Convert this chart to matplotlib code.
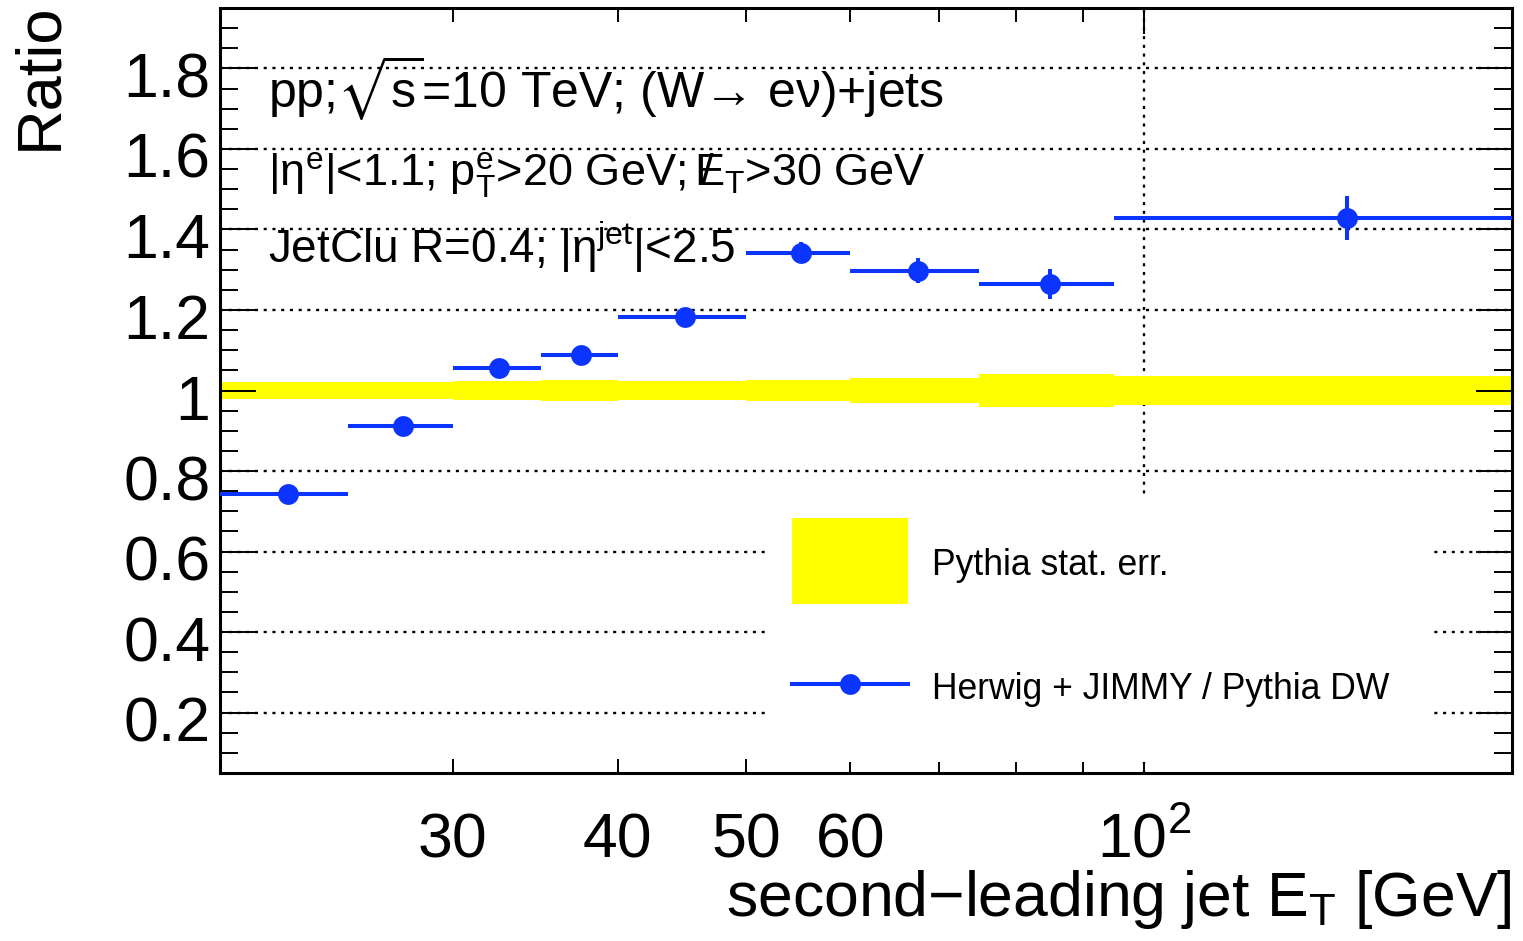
import matplotlib
matplotlib.use("Agg")
import matplotlib.pyplot as plt
import matplotlib.transforms as mtransforms
from matplotlib.patches import Rectangle
from matplotlib.lines import Line2D
from matplotlib.ticker import FixedLocator, FixedFormatter
import numpy as np

# Binning in second-leading jet E_T [GeV]
bin_edges = [20, 25, 30, 35, 40, 50, 60, 75, 95, 190]
# Herwig + JIMMY / Pythia DW ratio in each bin, with its uncertainty
ratio_values = [0.742, 0.912, 1.055, 1.089, 1.182, 1.342, 1.298, 1.265, 1.428]
ratio_errors = [0.008, 0.008, 0.010, 0.010, 0.014, 0.026, 0.031, 0.037, 0.054]
# Pythia statistical uncertainty (band around 1)
pythia_stat_err = [0.020, 0.021, 0.024, 0.027, 0.024, 0.027, 0.031, 0.042, 0.037]

x_major_ticks = [100]
x_major_labels = [r"$10^{2}$"]
x_minor_ticks = [30, 40, 50, 60, 70, 80, 90]
x_minor_labels = ["30", "40", "50", "60", "", "", ""]
y_major_ticks = [0.2, 0.4, 0.6, 0.8, 1.0, 1.2, 1.4, 1.6, 1.8]
y_major_labels = ["0.2", "0.4", "0.6", "0.8", "1", "1.2", "1.4", "1.6", "1.8"]
y_minor_ticks = list(np.arange(0.05, 1.951, 0.05))

legend_labels = ["Pythia stat. err.", "Herwig + JIMMY / Pythia DW"]
info_lines = [
    r"pp;$\sqrt{\mathrm{s}}$=10 TeV; (W→ eν)+jets",
    r"|η$^{\mathrm{e}}$|<1.1; p$^{\mathrm{e}}_{\mathrm{T}}$>20 GeV; $/\!\!\!E_{\mathrm{T}}$>30 GeV",
    r"JetClu R=0.4; |η$^{\mathrm{jet}}$|<2.5",
]
info_sizes = [36, 32.5, 33]
info_baselines = [0.8706, 0.767, 0.6667]

BLUE = "#0b35ff"
YELLOW = "#ffff00"

plt.rcParams["font.family"] = ["Liberation Sans", "DejaVu Sans"]
plt.rcParams["mathtext.fontset"] = "custom"
plt.rcParams["mathtext.rm"] = "Liberation Sans"
plt.rcParams["mathtext.it"] = "Liberation Sans"
plt.rcParams["mathtext.sf"] = "Liberation Sans"
plt.rcParams["mathtext.bf"] = "Liberation Sans:bold"
plt.rcParams["mathtext.fallback"] = "stixsans"

W, H = 1523, 941
AX_L, AX_R, AX_T, AX_B = 220, 1512, 8, 773
fig = plt.figure(figsize=(W / 100, H / 100), dpi=100)
ax = fig.add_axes([AX_L / W, 1 - AX_B / H, (AX_R - AX_L) / W, (AX_B - AX_T) / H])
ax.set_xscale("log")
ax.set_xlim(bin_edges[0], bin_edges[-1])
ax.set_ylim(0.05, 1.95)


def frac(px, py):
    """Pixel position on the canvas -> axes fraction."""
    return (px - AX_L) / (AX_R - AX_L), (AX_B - py) / (AX_B - AX_T)


edges = np.array(bin_edges, dtype=float)
lo, hi = edges[:-1], edges[1:]
centers = 0.5 * (lo + hi)
band = np.array(pythia_stat_err)

# dotted grid at the major ticks, kept underneath everything else
grid_kw = dict(color="black", lw=1.7, linestyle=(0, (1.3, 2.4)), zorder=0.5)
for yv in y_major_ticks:
    ax.axhline(yv, **grid_kw)
for xv in x_major_ticks:
    ax.axvline(xv, **grid_kw)

# Pythia statistical band
ax.bar(lo, 2 * band, bottom=1 - band, width=hi - lo, align="edge",
       color=YELLOW, linewidth=0, zorder=1)

# Herwig / Pythia ratio points
ax.errorbar(centers, ratio_values, xerr=[centers - lo, hi - centers],
            yerr=ratio_errors, fmt="o", color=BLUE, ms=15, mew=0,
            elinewidth=2.9, capsize=0, zorder=4)

# axes styling
for sp in ax.spines.values():
    sp.set_linewidth(2.2)
ax.xaxis.set_major_locator(FixedLocator(x_major_ticks))
ax.xaxis.set_major_formatter(FixedFormatter(x_major_labels))
ax.xaxis.set_minor_locator(FixedLocator(x_minor_ticks))
ax.xaxis.set_minor_formatter(FixedFormatter(x_minor_labels))
ax.yaxis.set_major_locator(FixedLocator(y_major_ticks))
ax.yaxis.set_major_formatter(FixedFormatter(y_major_labels))
ax.yaxis.set_minor_locator(FixedLocator(y_minor_ticks))

ax.tick_params(axis="both", which="both", direction="in", top=True,
               right=True, width=1.4, labelsize=45)
ax.tick_params(axis="x", which="major", length=19, pad=61)
ax.tick_params(axis="x", which="minor", length=10, pad=61)
ax.tick_params(axis="y", which="major", length=26, pad=7)
ax.tick_params(axis="y", which="minor", length=13)
for lbl in ax.get_xticklabels(which="both"):
    lbl.set_verticalalignment("baseline")
shift_down = mtransforms.ScaledTranslation(0, -6 / 100, fig.dpi_scale_trans)
for lbl in ax.get_yticklabels():
    lbl.set_transform(lbl.get_transform() + shift_down)

# selection text
for txt, size, yb in zip(info_lines, info_sizes, info_baselines):
    ax.text(0.0372, yb, txt, transform=ax.transAxes, fontsize=size,
            ha="left", va="baseline", zorder=6)

# legend: white box hiding the grid, a fill key and a marker key
x0, y0 = frac(768, 762)
x1, y1 = frac(1430, 497)
ax.add_patch(Rectangle((x0, y0), x1 - x0, y1 - y0, transform=ax.transAxes,
                       facecolor="white", edgecolor="none", zorder=5))
kx0, ky0 = frac(792, 604)
kx1, ky1 = frac(908, 518)
ax.add_patch(Rectangle((kx0, ky0), kx1 - kx0, ky1 - ky0, transform=ax.transAxes,
                       facecolor=YELLOW, edgecolor="none", zorder=6))
_, ly = frac(0, 684)
ax.add_line(Line2D([kx0, kx1], [ly, ly], transform=ax.transAxes, color=BLUE,
                   lw=2.9, zorder=6))
ax.add_line(Line2D([(kx0 + kx1) / 2], [ly], transform=ax.transAxes, color=BLUE,
                   marker="o", ms=15, mew=0, zorder=7))
tx, _ = frac(932, 0)
for label, py in zip(legend_labels, [575, 699]):
    ax.text(tx, frac(0, py)[1], label, transform=ax.transAxes, fontsize=25.6,
            ha="left", va="baseline", zorder=7)

fig.text(40 / W, 1 - 2 / H, "Ratio", rotation=90, ha="center", va="top",
         fontsize=45.5)
fig.text(AX_R / W, 1 - 916 / H, r"second$-$leading jet E$_{\mathrm{T}}$ [GeV]",
         ha="right", va="baseline", fontsize=45)

fig.savefig("out.png", dpi=100)
